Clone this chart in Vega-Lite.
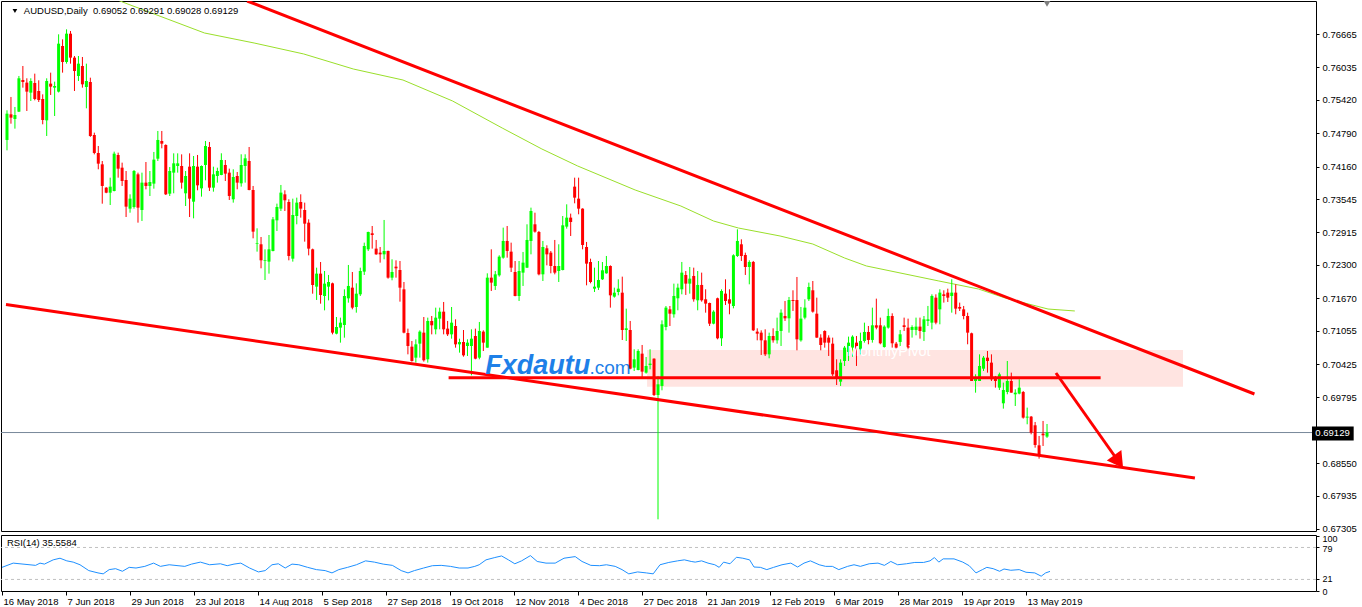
{
  "$schema": "https://vega.github.io/schema/vega-lite/v6.json",
  "background": "white",
  "padding": 0,
  "spacing": 4,
  "bounds": "flush",
  "config": {"view": {"stroke": "#000000", "strokeWidth": 1}, "font": "Liberation Sans", "axis": {"labelOverlap": false}},
  "datasets": {
    "candles": [
      {"i":0,"o":0.74662,"h":0.75223,"l":0.74466,"c":0.75159},
      {"i":1,"o":0.75147,"h":0.75475,"l":0.74970,"c":0.75084},
      {"i":2,"o":0.75059,"h":0.75286,"l":0.74876,"c":0.75134},
      {"i":3,"o":0.75197,"h":0.75872,"l":0.75190,"c":0.75828},
      {"i":4,"o":0.75796,"h":0.76061,"l":0.75651,"c":0.75758},
      {"i":5,"o":0.75746,"h":0.75828,"l":0.75210,"c":0.75576},
      {"i":6,"o":0.75557,"h":0.75828,"l":0.75399,"c":0.75777},
      {"i":7,"o":0.75739,"h":0.75916,"l":0.75412,"c":0.75437},
      {"i":8,"o":0.75588,"h":0.75790,"l":0.75380,"c":0.75418},
      {"i":9,"o":0.75437,"h":0.75525,"l":0.74958,"c":0.75040},
      {"i":10,"o":0.75033,"h":0.75828,"l":0.74737,"c":0.75777},
      {"i":11,"o":0.75727,"h":0.75935,"l":0.75513,"c":0.75670},
      {"i":12,"o":0.75651,"h":0.75765,"l":0.75115,"c":0.75683},
      {"i":13,"o":0.75576,"h":0.76660,"l":0.75560,"c":0.76483},
      {"i":14,"o":0.76439,"h":0.76565,"l":0.75935,"c":0.76137},
      {"i":15,"o":0.76137,"h":0.76754,"l":0.76105,"c":0.76672},
      {"i":16,"o":0.76672,"h":0.76723,"l":0.76105,"c":0.76219},
      {"i":17,"o":0.76219,"h":0.76250,"l":0.75588,"c":0.75966},
      {"i":18,"o":0.75872,"h":0.76250,"l":0.75777,"c":0.76105},
      {"i":19,"o":0.76061,"h":0.76231,"l":0.75651,"c":0.75714},
      {"i":20,"o":0.75664,"h":0.76105,"l":0.75260,"c":0.75777},
      {"i":21,"o":0.75758,"h":0.75840,"l":0.74720,"c":0.74737},
      {"i":22,"o":0.74756,"h":0.74800,"l":0.74390,"c":0.74416},
      {"i":23,"o":0.74416,"h":0.74548,"l":0.74107,"c":0.74214},
      {"i":24,"o":0.74201,"h":0.74264,"l":0.73457,"c":0.73792},
      {"i":25,"o":0.73760,"h":0.73770,"l":0.73655,"c":0.73665},
      {"i":26,"o":0.73665,"h":0.73949,"l":0.73432,"c":0.73779},
      {"i":27,"o":0.73697,"h":0.74441,"l":0.73690,"c":0.74403},
      {"i":28,"o":0.74378,"h":0.74422,"l":0.73949,"c":0.74119},
      {"i":29,"o":0.74138,"h":0.74233,"l":0.73792,"c":0.73886},
      {"i":30,"o":0.73905,"h":0.74075,"l":0.73205,"c":0.73401},
      {"i":31,"o":0.73363,"h":0.73634,"l":0.73287,"c":0.73552},
      {"i":32,"o":0.73394,"h":0.74094,"l":0.73363,"c":0.74075},
      {"i":33,"o":0.74012,"h":0.74044,"l":0.73098,"c":0.73382},
      {"i":34,"o":0.73338,"h":0.74044,"l":0.73130,"c":0.73855},
      {"i":35,"o":0.73855,"h":0.74245,"l":0.73728,"c":0.73792},
      {"i":36,"o":0.73792,"h":0.74075,"l":0.73602,"c":0.73867},
      {"i":37,"o":0.73836,"h":0.74435,"l":0.73741,"c":0.74290},
      {"i":38,"o":0.74308,"h":0.74832,"l":0.74264,"c":0.74662},
      {"i":39,"o":0.74643,"h":0.74832,"l":0.74504,"c":0.74592},
      {"i":40,"o":0.74567,"h":0.74580,"l":0.73621,"c":0.73634},
      {"i":41,"o":0.73646,"h":0.74150,"l":0.73602,"c":0.74075},
      {"i":42,"o":0.74044,"h":0.74409,"l":0.73653,"c":0.74220},
      {"i":43,"o":0.74170,"h":0.74409,"l":0.74044,"c":0.74220},
      {"i":44,"o":0.74170,"h":0.74390,"l":0.73741,"c":0.73855},
      {"i":45,"o":0.73653,"h":0.74075,"l":0.73413,"c":0.73981},
      {"i":46,"o":0.74157,"h":0.74409,"l":0.73205,"c":0.73552},
      {"i":47,"o":0.73495,"h":0.74359,"l":0.73180,"c":0.74170},
      {"i":48,"o":0.74157,"h":0.74378,"l":0.73710,"c":0.73804},
      {"i":49,"o":0.73747,"h":0.74180,"l":0.73590,"c":0.74170},
      {"i":50,"o":0.74189,"h":0.74643,"l":0.73899,"c":0.74548},
      {"i":51,"o":0.74529,"h":0.74624,"l":0.73697,"c":0.73760},
      {"i":52,"o":0.73760,"h":0.74157,"l":0.73684,"c":0.74012},
      {"i":53,"o":0.73981,"h":0.74138,"l":0.73855,"c":0.74075},
      {"i":54,"o":0.74000,"h":0.74410,"l":0.73995,"c":0.74283},
      {"i":55,"o":0.74189,"h":0.74283,"l":0.73886,"c":0.74025},
      {"i":56,"o":0.74044,"h":0.74120,"l":0.73527,"c":0.73603},
      {"i":57,"o":0.73540,"h":0.74107,"l":0.73477,"c":0.73962},
      {"i":58,"o":0.73981,"h":0.74056,"l":0.73729,"c":0.73855},
      {"i":59,"o":0.73842,"h":0.74391,"l":0.73779,"c":0.74189},
      {"i":60,"o":0.74170,"h":0.74391,"l":0.73855,"c":0.74315},
      {"i":61,"o":0.74265,"h":0.74529,"l":0.73710,"c":0.73716},
      {"i":62,"o":0.73716,"h":0.73792,"l":0.72802,"c":0.72928},
      {"i":63,"o":0.72695,"h":0.72991,"l":0.72550,"c":0.72707},
      {"i":64,"o":0.72689,"h":0.72827,"l":0.72235,"c":0.72386},
      {"i":65,"o":0.72373,"h":0.72594,"l":0.72014,"c":0.72386},
      {"i":66,"o":0.72361,"h":0.72865,"l":0.72134,"c":0.72594},
      {"i":67,"o":0.72562,"h":0.73205,"l":0.72555,"c":0.73161},
      {"i":68,"o":0.73142,"h":0.73458,"l":0.72941,"c":0.73395},
      {"i":69,"o":0.73363,"h":0.73811,"l":0.73319,"c":0.73666},
      {"i":70,"o":0.73634,"h":0.73710,"l":0.73319,"c":0.73521},
      {"i":71,"o":0.73489,"h":0.73540,"l":0.72386,"c":0.72468},
      {"i":72,"o":0.72417,"h":0.73552,"l":0.72361,"c":0.73243},
      {"i":73,"o":0.73224,"h":0.73571,"l":0.73067,"c":0.73477},
      {"i":74,"o":0.73489,"h":0.73634,"l":0.73193,"c":0.73363},
      {"i":75,"o":0.73338,"h":0.73477,"l":0.72739,"c":0.73079},
      {"i":76,"o":0.73098,"h":0.73161,"l":0.72480,"c":0.72607},
      {"i":77,"o":0.72594,"h":0.72607,"l":0.71755,"c":0.71919},
      {"i":78,"o":0.71888,"h":0.72247,"l":0.71636,"c":0.72134},
      {"i":79,"o":0.72134,"h":0.72354,"l":0.71566,"c":0.71730},
      {"i":80,"o":0.71711,"h":0.72184,"l":0.71440,"c":0.71945},
      {"i":81,"o":0.71888,"h":0.72109,"l":0.71629,"c":0.71976},
      {"i":82,"o":0.71951,"h":0.71964,"l":0.70986,"c":0.71018},
      {"i":83,"o":0.70999,"h":0.71314,"l":0.70986,"c":0.71125},
      {"i":84,"o":0.71113,"h":0.71302,"l":0.70829,"c":0.71207},
      {"i":85,"o":0.71163,"h":0.71837,"l":0.70923,"c":0.71711},
      {"i":86,"o":0.71667,"h":0.72298,"l":0.71585,"c":0.71901},
      {"i":87,"o":0.71869,"h":0.72165,"l":0.71459,"c":0.71491},
      {"i":88,"o":0.71503,"h":0.71951,"l":0.71396,"c":0.71755},
      {"i":89,"o":0.71743,"h":0.72247,"l":0.71711,"c":0.72184},
      {"i":90,"o":0.72172,"h":0.72720,"l":0.72109,"c":0.72657},
      {"i":91,"o":0.72594,"h":0.72928,"l":0.72562,"c":0.72922},
      {"i":92,"o":0.72897,"h":0.73035,"l":0.72607,"c":0.72865},
      {"i":93,"o":0.72607,"h":0.72771,"l":0.72490,"c":0.72499},
      {"i":94,"o":0.72531,"h":0.72638,"l":0.72342,"c":0.72499},
      {"i":95,"o":0.72499,"h":0.73149,"l":0.72405,"c":0.72562},
      {"i":96,"o":0.72562,"h":0.72570,"l":0.72039,"c":0.72058},
      {"i":97,"o":0.72058,"h":0.72405,"l":0.72008,"c":0.72165},
      {"i":98,"o":0.72266,"h":0.72386,"l":0.72058,"c":0.72235},
      {"i":99,"o":0.72203,"h":0.72373,"l":0.71604,"c":0.71869},
      {"i":100,"o":0.71837,"h":0.71976,"l":0.71005,"c":0.71018},
      {"i":101,"o":0.71012,"h":0.71094,"l":0.70608,"c":0.70766},
      {"i":102,"o":0.70753,"h":0.70860,"l":0.70470,"c":0.70482},
      {"i":103,"o":0.70545,"h":0.70892,"l":0.70451,"c":0.70797},
      {"i":104,"o":0.70810,"h":0.71062,"l":0.70545,"c":0.71037},
      {"i":105,"o":0.71018,"h":0.71314,"l":0.70470,"c":0.70495},
      {"i":106,"o":0.70514,"h":0.71302,"l":0.70451,"c":0.71239},
      {"i":107,"o":0.71239,"h":0.71333,"l":0.70986,"c":0.71157},
      {"i":108,"o":0.71081,"h":0.71491,"l":0.70986,"c":0.71302},
      {"i":109,"o":0.71283,"h":0.71491,"l":0.71081,"c":0.71415},
      {"i":110,"o":0.71415,"h":0.71598,"l":0.70986,"c":0.71081},
      {"i":111,"o":0.71094,"h":0.71239,"l":0.70955,"c":0.70986},
      {"i":112,"o":0.70986,"h":0.71503,"l":0.70904,"c":0.71207},
      {"i":113,"o":0.71144,"h":0.71270,"l":0.70734,"c":0.70797},
      {"i":114,"o":0.70797,"h":0.70904,"l":0.70640,"c":0.70841},
      {"i":115,"o":0.70841,"h":0.71068,"l":0.70564,"c":0.70589},
      {"i":116,"o":0.70766,"h":0.70892,"l":0.70577,"c":0.70829},
      {"i":117,"o":0.70766,"h":0.71081,"l":0.70211,"c":0.70904},
      {"i":118,"o":0.70955,"h":0.71094,"l":0.70514,"c":0.70526},
      {"i":119,"o":0.70545,"h":0.71220,"l":0.70514,"c":0.71050},
      {"i":120,"o":0.71037,"h":0.71062,"l":0.70671,"c":0.70829},
      {"i":121,"o":0.70734,"h":0.72140,"l":0.70734,"c":0.72058},
      {"i":122,"o":0.72058,"h":0.72594,"l":0.71806,"c":0.71964},
      {"i":123,"o":0.71901,"h":0.72184,"l":0.71825,"c":0.72121},
      {"i":124,"o":0.72102,"h":0.72481,"l":0.72077,"c":0.72455},
      {"i":125,"o":0.72436,"h":0.73004,"l":0.72417,"c":0.72752},
      {"i":126,"o":0.72752,"h":0.73035,"l":0.72436,"c":0.72562},
      {"i":127,"o":0.72550,"h":0.72720,"l":0.72165,"c":0.72247},
      {"i":128,"o":0.72165,"h":0.72373,"l":0.71705,"c":0.71711},
      {"i":129,"o":0.71711,"h":0.72373,"l":0.71617,"c":0.72184},
      {"i":130,"o":0.72153,"h":0.72544,"l":0.71901,"c":0.72342},
      {"i":131,"o":0.72247,"h":0.73067,"l":0.72240,"c":0.72771},
      {"i":132,"o":0.72752,"h":0.73382,"l":0.72499,"c":0.73319},
      {"i":133,"o":0.73067,"h":0.73287,"l":0.72909,"c":0.72928},
      {"i":134,"o":0.72922,"h":0.72941,"l":0.72102,"c":0.72121},
      {"i":135,"o":0.72121,"h":0.72752,"l":0.71995,"c":0.72638},
      {"i":136,"o":0.72613,"h":0.72670,"l":0.72291,"c":0.72499},
      {"i":137,"o":0.72531,"h":0.72562,"l":0.72140,"c":0.72279},
      {"i":138,"o":0.72279,"h":0.72771,"l":0.72121,"c":0.72153},
      {"i":139,"o":0.72184,"h":0.72689,"l":0.71976,"c":0.72279},
      {"i":140,"o":0.72203,"h":0.73224,"l":0.72196,"c":0.73048},
      {"i":141,"o":0.73023,"h":0.73445,"l":0.72985,"c":0.73193},
      {"i":142,"o":0.73193,"h":0.73269,"l":0.72846,"c":0.73111},
      {"i":143,"o":0.73779,"h":0.73949,"l":0.73464,"c":0.73571},
      {"i":144,"o":0.73552,"h":0.73949,"l":0.73256,"c":0.73363},
      {"i":145,"o":0.73363,"h":0.73370,"l":0.72594,"c":0.72676},
      {"i":146,"o":0.72638,"h":0.72733,"l":0.71913,"c":0.72323},
      {"i":147,"o":0.72354,"h":0.72417,"l":0.71951,"c":0.71976},
      {"i":148,"o":0.71850,"h":0.72247,"l":0.71787,"c":0.71888},
      {"i":149,"o":0.71869,"h":0.72373,"l":0.71825,"c":0.72014},
      {"i":150,"o":0.72027,"h":0.72354,"l":0.72014,"c":0.72197},
      {"i":151,"o":0.72140,"h":0.72468,"l":0.72133,"c":0.72279},
      {"i":152,"o":0.72279,"h":0.72291,"l":0.71491,"c":0.71724},
      {"i":153,"o":0.71699,"h":0.71869,"l":0.71680,"c":0.71774},
      {"i":154,"o":0.71787,"h":0.72027,"l":0.71724,"c":0.71850},
      {"i":155,"o":0.71774,"h":0.72077,"l":0.70879,"c":0.71068},
      {"i":156,"o":0.71068,"h":0.71472,"l":0.70860,"c":0.71100},
      {"i":157,"o":0.71068,"h":0.71239,"l":0.70325,"c":0.70337},
      {"i":158,"o":0.70356,"h":0.70703,"l":0.70293,"c":0.70514},
      {"i":159,"o":0.70312,"h":0.70703,"l":0.70306,"c":0.70671},
      {"i":160,"o":0.70621,"h":0.70785,"l":0.70180,"c":0.70281},
      {"i":161,"o":0.70262,"h":0.70558,"l":0.70243,"c":0.70388},
      {"i":162,"o":0.70407,"h":0.70703,"l":0.70325,"c":0.70432},
      {"i":163,"o":0.70526,"h":0.70533,"l":0.69820,"c":0.69839},
      {"i":164,"o":0.69839,"h":0.70199,"l":0.67488,"c":0.70041},
      {"i":165,"o":0.70010,"h":0.71251,"l":0.69928,"c":0.71176},
      {"i":166,"o":0.71125,"h":0.71522,"l":0.71062,"c":0.71491},
      {"i":167,"o":0.71459,"h":0.71522,"l":0.71144,"c":0.71377},
      {"i":168,"o":0.71365,"h":0.71945,"l":0.71302,"c":0.71712},
      {"i":169,"o":0.71668,"h":0.71945,"l":0.71441,"c":0.71869},
      {"i":170,"o":0.71838,"h":0.72355,"l":0.71743,"c":0.72153},
      {"i":171,"o":0.72109,"h":0.72184,"l":0.71731,"c":0.71945},
      {"i":172,"o":0.71945,"h":0.72260,"l":0.71756,"c":0.72039},
      {"i":173,"o":0.72090,"h":0.72247,"l":0.71604,"c":0.71649},
      {"i":174,"o":0.71630,"h":0.72184,"l":0.71441,"c":0.71920},
      {"i":175,"o":0.71920,"h":0.72153,"l":0.71604,"c":0.71630},
      {"i":176,"o":0.71649,"h":0.71838,"l":0.71396,"c":0.71567},
      {"i":177,"o":0.71579,"h":0.71586,"l":0.71144,"c":0.71188},
      {"i":178,"o":0.71188,"h":0.71441,"l":0.71176,"c":0.71415},
      {"i":179,"o":0.71668,"h":0.71680,"l":0.70892,"c":0.70911},
      {"i":180,"o":0.70911,"h":0.71838,"l":0.70766,"c":0.71806},
      {"i":181,"o":0.71756,"h":0.72027,"l":0.71541,"c":0.71617},
      {"i":182,"o":0.71649,"h":0.71838,"l":0.71365,"c":0.71567},
      {"i":183,"o":0.71522,"h":0.72500,"l":0.71478,"c":0.72481},
      {"i":184,"o":0.72468,"h":0.72972,"l":0.72449,"c":0.72752},
      {"i":185,"o":0.72689,"h":0.72783,"l":0.72374,"c":0.72468},
      {"i":186,"o":0.72487,"h":0.72531,"l":0.72109,"c":0.72260},
      {"i":187,"o":0.72260,"h":0.72386,"l":0.71932,"c":0.72355},
      {"i":188,"o":0.72355,"h":0.72374,"l":0.71050,"c":0.71062},
      {"i":189,"o":0.71037,"h":0.71100,"l":0.70873,"c":0.70999},
      {"i":190,"o":0.71018,"h":0.71062,"l":0.70596,"c":0.70873},
      {"i":191,"o":0.70873,"h":0.71081,"l":0.70577,"c":0.70608},
      {"i":192,"o":0.70608,"h":0.71018,"l":0.70533,"c":0.70955},
      {"i":193,"o":0.70955,"h":0.71100,"l":0.70829,"c":0.70873},
      {"i":194,"o":0.70873,"h":0.71302,"l":0.70810,"c":0.71050},
      {"i":195,"o":0.71050,"h":0.71459,"l":0.70766,"c":0.71396},
      {"i":196,"o":0.71333,"h":0.71617,"l":0.71239,"c":0.71289},
      {"i":197,"o":0.71289,"h":0.71693,"l":0.71018,"c":0.71636},
      {"i":198,"o":0.71636,"h":0.71819,"l":0.71428,"c":0.71617},
      {"i":199,"o":0.71636,"h":0.72071,"l":0.70684,"c":0.70892},
      {"i":200,"o":0.70873,"h":0.71504,"l":0.70848,"c":0.71283},
      {"i":201,"o":0.71302,"h":0.71649,"l":0.71270,"c":0.71491},
      {"i":202,"o":0.71649,"h":0.71964,"l":0.71617,"c":0.71882},
      {"i":203,"o":0.71819,"h":0.71995,"l":0.71396,"c":0.71415},
      {"i":204,"o":0.71377,"h":0.71680,"l":0.70920,"c":0.70924},
      {"i":205,"o":0.70924,"h":0.70987,"l":0.70684,"c":0.70785},
      {"i":206,"o":0.71050,"h":0.71062,"l":0.70734,"c":0.70829},
      {"i":207,"o":0.70924,"h":0.70968,"l":0.70577,"c":0.70829},
      {"i":208,"o":0.70810,"h":0.70924,"l":0.70199,"c":0.70230},
      {"i":209,"o":0.70306,"h":0.70514,"l":0.70028,"c":0.70167},
      {"i":210,"o":0.70091,"h":0.70514,"l":0.70010,"c":0.70451},
      {"i":211,"o":0.70482,"h":0.70766,"l":0.70388,"c":0.70735},
      {"i":212,"o":0.70653,"h":0.70943,"l":0.70482,"c":0.70829},
      {"i":213,"o":0.70735,"h":0.70968,"l":0.70564,"c":0.70943},
      {"i":214,"o":0.70829,"h":0.70955,"l":0.70388,"c":0.70703},
      {"i":215,"o":0.70703,"h":0.71018,"l":0.70608,"c":0.70861},
      {"i":216,"o":0.70861,"h":0.71207,"l":0.70829,"c":0.71031},
      {"i":217,"o":0.71031,"h":0.71144,"l":0.70798,"c":0.70880},
      {"i":218,"o":0.70880,"h":0.71491,"l":0.70829,"c":0.71157},
      {"i":219,"o":0.71157,"h":0.71661,"l":0.71081,"c":0.71113},
      {"i":220,"o":0.71157,"h":0.71302,"l":0.70798,"c":0.70817},
      {"i":221,"o":0.70747,"h":0.71157,"l":0.70735,"c":0.71132},
      {"i":222,"o":0.71113,"h":0.71472,"l":0.71094,"c":0.71333},
      {"i":223,"o":0.71333,"h":0.71384,"l":0.70735,"c":0.70817},
      {"i":224,"o":0.70810,"h":0.70842,"l":0.70716,"c":0.70735},
      {"i":225,"o":0.70842,"h":0.71069,"l":0.70753,"c":0.70987},
      {"i":226,"o":0.71157,"h":0.71302,"l":0.71050,"c":0.71125},
      {"i":227,"o":0.71113,"h":0.71283,"l":0.70703,"c":0.70735},
      {"i":228,"o":0.71069,"h":0.71157,"l":0.70924,"c":0.71125},
      {"i":229,"o":0.71069,"h":0.71302,"l":0.70968,"c":0.71132},
      {"i":230,"o":0.71132,"h":0.71302,"l":0.70905,"c":0.71050},
      {"i":231,"o":0.71031,"h":0.71333,"l":0.70861,"c":0.71270},
      {"i":232,"o":0.71239,"h":0.71523,"l":0.71144,"c":0.71270},
      {"i":233,"o":0.71207,"h":0.71743,"l":0.71081,"c":0.71712},
      {"i":234,"o":0.71680,"h":0.71743,"l":0.71176,"c":0.71207},
      {"i":235,"o":0.71459,"h":0.71838,"l":0.71176,"c":0.71775},
      {"i":236,"o":0.71743,"h":0.71819,"l":0.71586,"c":0.71712},
      {"i":237,"o":0.71775,"h":0.71850,"l":0.71598,"c":0.71680},
      {"i":238,"o":0.71712,"h":0.72027,"l":0.71396,"c":0.71775},
      {"i":239,"o":0.71775,"h":0.71932,"l":0.71365,"c":0.71472},
      {"i":240,"o":0.71504,"h":0.71586,"l":0.71428,"c":0.71472},
      {"i":241,"o":0.71459,"h":0.71523,"l":0.71270,"c":0.71333},
      {"i":242,"o":0.71333,"h":0.71396,"l":0.70798,"c":0.71018},
      {"i":243,"o":0.71006,"h":0.71018,"l":0.70104,"c":0.70104},
      {"i":244,"o":0.70104,"h":0.70230,"l":0.69883,"c":0.70148},
      {"i":245,"o":0.70104,"h":0.70608,"l":0.70104,"c":0.70388},
      {"i":246,"o":0.70337,"h":0.70577,"l":0.70293,"c":0.70545},
      {"i":247,"o":0.70545,"h":0.70671,"l":0.70262,"c":0.70482},
      {"i":248,"o":0.70451,"h":0.70608,"l":0.70104,"c":0.70136},
      {"i":249,"o":0.70148,"h":0.70199,"l":0.69978,"c":0.70104},
      {"i":250,"o":0.69978,"h":0.70262,"l":0.69934,"c":0.70230},
      {"i":251,"o":0.69682,"h":0.70073,"l":0.69581,"c":0.69934},
      {"i":252,"o":0.69896,"h":0.70482,"l":0.69852,"c":0.70104},
      {"i":253,"o":0.70104,"h":0.70262,"l":0.69883,"c":0.69883},
      {"i":254,"o":0.69852,"h":0.69947,"l":0.69631,"c":0.69883},
      {"i":255,"o":0.69865,"h":0.70136,"l":0.69852,"c":0.69978},
      {"i":256,"o":0.69896,"h":0.69915,"l":0.69392,"c":0.69411},
      {"i":257,"o":0.69411,"h":0.69600,"l":0.69285,"c":0.69430},
      {"i":258,"o":0.69430,"h":0.69442,"l":0.69095,"c":0.69127},
      {"i":259,"o":0.69266,"h":0.69329,"l":0.68843,"c":0.68894},
      {"i":260,"o":0.68887,"h":0.69064,"l":0.68635,"c":0.68686},
      {"i":261,"o":0.69108,"h":0.69348,"l":0.68875,"c":0.69077},
      {"i":262,"o":0.69052,"h":0.69291,"l":0.69028,"c":0.69129}
    ],
    "ma": [
      {"i":24.75,"v":0.77403},{"i":29.75,"v":0.77252},{"i":49.75,"v":0.76685},{"i":62.25,"v":0.76496},
      {"i":74.75,"v":0.76288},{"i":87.25,"v":0.76004},{"i":99.75,"v":0.75796},{"i":112.25,"v":0.75399},
      {"i":124.75,"v":0.74888},{"i":134.75,"v":0.74491},{"i":143.75,"v":0.7417},{"i":158.25,"v":0.73716},
      {"i":169.75,"v":0.73413},{"i":178,"v":0.73129},{"i":184.25,"v":0.72997},{"i":194.75,"v":0.72846},
      {"i":203,"v":0.72694},{"i":211,"v":0.7243},{"i":216.5,"v":0.72279},{"i":234.75,"v":0.71995},
      {"i":244.75,"v":0.71843},{"i":251.5,"v":0.71673},{"i":262.25,"v":0.71465},{"i":269,"v":0.71428}
    ],
    "lines": [
      {"id":"up","i":60.5,"p":0.7729},{"id":"up","i":314.25,"p":0.69858},
      {"id":"low","i":-0.25,"p":0.7155},{"id":"low","i":299.25,"p":0.68269},
      {"id":"h","i":111.25,"p":0.70166},{"id":"h","i":275.5,"p":0.70166},
      {"id":"arrow","i":264.25,"p":0.70255},{"id":"arrow","i":279.65,"p":0.68619}
    ],
    "rsi": [
      {"i":0,"r":42.9},{"i":2.8,"r":50.6},{"i":8.4,"r":46.5},{"i":9.5,"r":50.6},{"i":10.6,"r":48.8},{"i":12.8,"r":56.5},
      {"i":14.5,"r":59.5},{"i":16.2,"r":54.7},{"i":17.8,"r":52.4},{"i":19.5,"r":47.6},{"i":21.7,"r":37.0},{"i":24.0,"r":32.8},
      {"i":25.3,"r":31.1},{"i":26.8,"r":38.8},{"i":28.4,"r":40.5},{"i":30.1,"r":35.8},{"i":31.8,"r":42.9},{"i":33.5,"r":41.7},
      {"i":35.7,"r":44.7},{"i":37.9,"r":50.6},{"i":39.6,"r":44.7},{"i":41.8,"r":47.6},{"i":44.0,"r":45.9},{"i":45.7,"r":44.7},
      {"i":47.4,"r":48.8},{"i":49.6,"r":52.4},{"i":51.9,"r":47.6},{"i":54.6,"r":49.4},{"i":56.3,"r":45.9},{"i":58.0,"r":48.8},
      {"i":59.7,"r":50.6},{"i":61.9,"r":41.7},{"i":64.1,"r":34.6},{"i":65.8,"r":37.0},{"i":67.5,"r":47.6},{"i":69.1,"r":49.4},
      {"i":70.8,"r":41.7},{"i":72.5,"r":48.8},{"i":74.2,"r":47.6},{"i":76.4,"r":42.9},{"i":78.6,"r":38.8},{"i":80.8,"r":37.0},
      {"i":82.5,"r":32.8},{"i":84.2,"r":38.8},{"i":86.4,"r":42.9},{"i":88.6,"r":47.6},{"i":90.9,"r":54.7},{"i":93.1,"r":52.4},
      {"i":95.3,"r":48.8},{"i":97.6,"r":46.5},{"i":99.8,"r":37.0},{"i":101.5,"r":32.8},{"i":103.1,"r":37.0},{"i":105.4,"r":41.7},
      {"i":107.6,"r":45.9},{"i":109.8,"r":46.5},{"i":112.1,"r":44.7},{"i":114.3,"r":41.7},{"i":116.5,"r":41.7},{"i":118.2,"r":44.7},
      {"i":119.3,"r":47.6},{"i":121.0,"r":56.5},{"i":123.2,"r":60.7},{"i":124.9,"r":63.6},{"i":126.6,"r":56.5},{"i":128.2,"r":49.4},
      {"i":129.9,"r":54.7},{"i":132.1,"r":64.2},{"i":133.8,"r":53.6},{"i":136.0,"r":50.6},{"i":138.3,"r":50.6},{"i":140.5,"r":59.5},
      {"i":143.3,"r":62.4},{"i":145.0,"r":53.6},{"i":147.2,"r":46.5},{"i":149.4,"r":45.9},{"i":151.1,"r":47.6},{"i":153.3,"r":44.7},
      {"i":155.0,"r":38.8},{"i":156.7,"r":31.1},{"i":158.9,"r":34.6},{"i":161.1,"r":32.8},{"i":162.8,"r":31.1},{"i":164.5,"r":47.6},
      {"i":166.7,"r":51.8},{"i":168.9,"r":54.7},{"i":170.6,"r":56.5},{"i":172.3,"r":53.6},{"i":173.3,"r":52.4},{"i":174.9,"r":54.7},
      {"i":176.5,"r":50.6},{"i":178.2,"r":47.6},{"i":179.3,"r":42.9},{"i":180.4,"r":52.4},{"i":182.0,"r":49.4},{"i":183.6,"r":61.2},
      {"i":185.2,"r":59.5},{"i":186.9,"r":56.5},{"i":188.0,"r":43.5},{"i":189.6,"r":42.9},{"i":191.2,"r":38.8},{"i":192.9,"r":42.9},
      {"i":195.0,"r":47.6},{"i":197.2,"r":50.6},{"i":198.9,"r":43.5},{"i":200.5,"r":50.6},{"i":202.1,"r":54.7},{"i":204.3,"r":47.6},
      {"i":205.9,"r":44.7},{"i":207.6,"r":44.7},{"i":209.2,"r":38.8},{"i":211.4,"r":44.7},{"i":213.0,"r":47.6},{"i":214.6,"r":44.7},
      {"i":216.8,"r":49.4},{"i":219.0,"r":50.6},{"i":220.6,"r":46.5},{"i":222.2,"r":53.6},{"i":223.9,"r":47.6},{"i":226.1,"r":49.4},
      {"i":228.2,"r":51.8},{"i":230.4,"r":51.8},{"i":232.0,"r":54.7},{"i":233.1,"r":60.7},{"i":234.2,"r":52.4},{"i":235.3,"r":58.3},
      {"i":238.0,"r":58.3},{"i":240.2,"r":52.4},{"i":241.8,"r":45.9},{"i":243.5,"r":32.8},{"i":245.1,"r":38.8},{"i":246.2,"r":42.9},
      {"i":247.8,"r":40.5},{"i":249.4,"r":35.8},{"i":250.5,"r":39.9},{"i":252.2,"r":37.6},{"i":254.3,"r":38.8},{"i":256.0,"r":34.0},
      {"i":258.2,"r":32.8},{"i":259.8,"r":26.9},{"i":260.9,"r":32.8},{"i":262.0,"r":35.5584}
    ]
  },
  "vconcat": [
    {
      "width": 1315,
      "height": 530,
      "resolve": {"axis": {"x": "independent", "y": "independent"}},
      "layer": [
        {
          "data": {"values": [{}]},
          "mark": {"type": "rect", "fill": "#FFE4E1"},
          "encoding": {
            "x": {"datum": 161.25, "type": "quantitative", "scale": {"domain": [-0.25, 328.5], "nice": false, "zero": false}, "axis": null},
            "x2": {"datum": 296.25},
            "y": {"datum": 0.69997, "type": "quantitative", "scale": {"domain": [0.67267, 0.7729], "nice": false, "zero": false}, "axis": {
              "orient": "right", "title": null, "grid": false, "domain": false,
              "values": [0.76665, 0.76035, 0.7542, 0.7479, 0.7416, 0.73545, 0.72915, 0.723, 0.7167, 0.71055, 0.70425, 0.69795, 0.6855, 0.67935, 0.67305],
              "format": ".5f", "tickSize": 3, "tickColor": "#000000", "labelPadding": 3,
              "labelColor": "#000000", "labelFont": "Liberation Sans", "labelFontSize": 9.5,
              "labelOverlap": false, "labelFlush": false, "labelBound": false
            }},
            "y2": {"datum": 0.7069}
          }
        },
        {
          "data": {"values": [{}]},
          "mark": {"type": "rule", "color": "#778899", "strokeWidth": 1},
          "encoding": {
            "y": {"datum": 0.69129, "type": "quantitative", "axis": null}
          }
        },
        {
          "data": {"name": "ma"},
          "mark": {"type": "line", "color": "#9ADF2A", "strokeWidth": 1, "clip": true},
          "encoding": {
            "x": {"field": "i", "type": "quantitative", "axis": null},
            "y": {"field": "v", "type": "quantitative", "axis": null}
          }
        },
        {
          "data": {"name": "candles"},
          "mark": {"type": "rule", "strokeWidth": 1, "clip": true},
          "encoding": {
            "x": {"field": "i", "type": "quantitative", "axis": null},
            "y": {"field": "l", "type": "quantitative", "axis": null},
            "y2": {"field": "h"},
            "color": {"condition": {"test": "datum.c >= datum.o", "value": "#00FF00"}, "value": "#FF0000"}
          }
        },
        {
          "data": {"name": "candles"},
          "mark": {"type": "bar", "size": 3, "clip": true},
          "encoding": {
            "x": {"field": "i", "type": "quantitative", "axis": null},
            "y": {"field": "o", "type": "quantitative", "axis": null},
            "y2": {"field": "c"},
            "color": {"condition": {"test": "datum.c >= datum.o", "value": "#00FF00"}, "value": "#FF0000"}
          }
        },
        {
          "data": {"name": "lines"},
          "mark": {"type": "line", "color": "#FF0000", "clip": true},
          "encoding": {
            "x": {"field": "i", "type": "quantitative", "axis": null},
            "y": {"field": "p", "type": "quantitative", "axis": null},
            "detail": {"field": "id"},
            "strokeWidth": {"field": "id", "type": "nominal", "scale": {"domain": ["up", "low", "h", "arrow"], "range": [3, 3, 3, 2]}, "legend": null}
          }
        },
        {
          "data": {"values": [{}]},
          "mark": {"type": "point", "shape": "triangle", "filled": true, "color": "#FF0000", "size": 320, "angle": 144.5, "opacity": 1},
          "encoding": {
            "x": {"datum": 279.65, "type": "quantitative", "axis": null},
            "y": {"datum": 0.68619, "type": "quantitative", "axis": null}
          }
        },
        {
          "data": {"values": [{}]},
          "mark": {"type": "text", "text": "Fxdautu", "font": "Liberation Sans", "fontSize": 27, "fontStyle": "italic", "fontWeight": "bold", "color": "#1E80E8", "align": "left", "baseline": "alphabetic"},
          "encoding": {
            "x": {"datum": 120.5, "type": "quantitative", "axis": null},
            "y": {"datum": 0.70236, "type": "quantitative", "axis": null}
          }
        },
        {
          "data": {"values": [{}]},
          "mark": {"type": "text", "text": ".com", "font": "Liberation Sans", "fontSize": 19, "color": "#1E80E8", "align": "left", "baseline": "alphabetic"},
          "encoding": {
            "x": {"datum": 146.75, "type": "quantitative", "axis": null},
            "y": {"datum": 0.70236, "type": "quantitative", "axis": null}
          }
        },
        {
          "data": {"values": [{}]},
          "mark": {"type": "text", "text": "MonthlyPivot", "font": "Liberation Sans", "fontSize": 14.5, "color": "#FFFFFF", "align": "left", "baseline": "alphabetic"},
          "encoding": {
            "x": {"datum": 211.75, "type": "quantitative", "axis": null},
            "y": {"datum": 0.70577, "type": "quantitative", "axis": null}
          }
        },
        {
          "data": {"values": [{}]},
          "mark": {"type": "point", "shape": "triangle-down", "filled": true, "color": "#000000", "size": 22, "opacity": 1},
          "encoding": {
            "x": {"datum": 2, "type": "quantitative", "axis": null},
            "y": {"datum": 0.77101, "type": "quantitative", "axis": null}
          }
        },
        {
          "data": {"values": [{}]},
          "mark": {"type": "text", "text": "AUDUSD,Daily\u00a0\u00a00.69052 0.69291 0.69028 0.69129", "font": "Liberation Sans", "fontSize": 9.5, "color": "#000000", "align": "left", "baseline": "middle"},
          "encoding": {
            "x": {"datum": 4.25, "type": "quantitative", "axis": null},
            "y": {"datum": 0.77101, "type": "quantitative", "axis": null}
          }
        },
        {
          "data": {"values": [{}]},
          "mark": {"type": "point", "shape": "triangle-down", "filled": true, "color": "#7F7F7F", "size": 45, "opacity": 1},
          "encoding": {
            "x": {"datum": 262, "type": "quantitative", "axis": null},
            "y": {"datum": 0.77235, "type": "quantitative", "axis": null}
          }
        },
        {
          "data": {"values": [{}]},
          "mark": {"type": "rect", "fill": "#000000"},
          "encoding": {
            "x": {"datum": 328.75, "type": "quantitative", "axis": null},
            "x2": {"datum": 339.25},
            "y": {"datum": 0.68979, "type": "quantitative", "axis": null},
            "y2": {"datum": 0.69243}
          }
        },
        {
          "data": {"values": [{}]},
          "mark": {"type": "text", "text": "0.69129", "font": "Liberation Sans", "fontSize": 9.5, "color": "#FFFFFF", "align": "left", "baseline": "middle"},
          "encoding": {
            "x": {"datum": 329.6, "type": "quantitative", "axis": null},
            "y": {"datum": 0.69129, "type": "quantitative", "axis": null}
          }
        }
      ]
    },
    {
      "width": 1315,
      "height": 56,
      "resolve": {"axis": {"x": "independent", "y": "independent"}},
      "layer": [
        {
          "data": {"name": "rsi"},
          "mark": {"type": "line", "color": "#1E90FF", "strokeWidth": 1, "clip": true},
          "encoding": {
            "x": {"field": "i", "type": "quantitative", "scale": {"domain": [-0.25, 328.5], "nice": false, "zero": false}, "axis": {
              "orient": "bottom", "title": null, "grid": false, "domain": false,
              "values": [0, 16, 32, 48, 64, 80, 96, 112, 128, 144, 160, 176, 192, 208, 224, 240, 256],
              "labelExpr": "['16 May 2018','7 Jun 2018','29 Jun 2018','23 Jul 2018','14 Aug 2018','5 Sep 2018','27 Sep 2018','19 Oct 2018','12 Nov 2018','4 Dec 2018','27 Dec 2018','21 Jan 2019','12 Feb 2019','6 Mar 2019','28 Mar 2019','19 Apr 2019','13 May 2019'][round(datum.value/16)]",
              "tickSize": 4, "tickColor": "#000000", "labelAlign": "left", "labelBaseline": "top", "labelPadding": 1, "labelOffset": 1,
              "labelColor": "#000000", "labelFont": "Liberation Sans", "labelFontSize": 9.5, "labelOverlap": false, "labelFlush": false
            }},
            "y": {"field": "r", "type": "quantitative", "scale": {"domain": [0, 101.6], "nice": false, "zero": false}, "axis": {
              "orient": "right", "title": null, "grid": false, "domain": false,
              "values": [100, 79, 21, 0], "tickSize": 3, "tickColor": "#000000", "labelPadding": 3,
              "labelColor": "#000000", "labelFont": "Liberation Sans", "labelFontSize": 9, "labelOverlap": false, "labelFlush": false, "labelBound": false,
              "labelBaseline": "alphabetic",
              "labelOffset": {"condition": [{"test": "datum.value == 100", "value": 6}, {"test": "datum.value == 79", "value": 4}, {"test": "datum.value == 21", "value": 2}], "value": 3}
            }}
          }
        },
        {
          "data": {"values": [{}]},
          "mark": {"type": "rule", "color": "#C0C0C0", "strokeDash": [3, 3], "strokeWidth": 1},
          "encoding": {
            "y": {"datum": 79, "type": "quantitative", "axis": null}
          }
        },
        {
          "data": {"values": [{}]},
          "mark": {"type": "rule", "color": "#C0C0C0", "strokeDash": [3, 3], "strokeWidth": 1},
          "encoding": {
            "y": {"datum": 21, "type": "quantitative", "axis": null}
          }
        },
        {
          "data": {"values": [{}]},
          "mark": {"type": "text", "text": "RSI(14) 35.5584", "font": "Liberation Sans", "fontSize": 9.5, "color": "#000000", "align": "left", "baseline": "middle"},
          "encoding": {
            "x": {"datum": 1.25, "type": "quantitative", "axis": null},
            "y": {"datum": 87.4, "type": "quantitative", "axis": null}
          }
        }
      ]
    }
  ]
}
